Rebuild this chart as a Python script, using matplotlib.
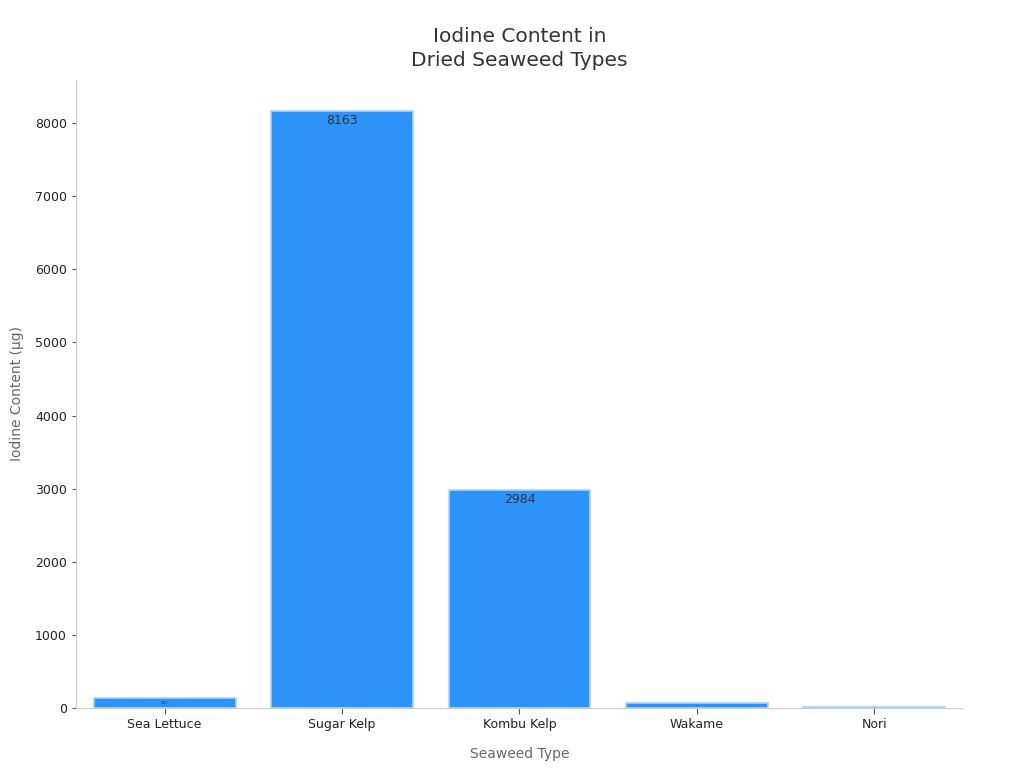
import matplotlib
matplotlib.use("Agg")
import matplotlib.pyplot as plt

categories = ["Sea Lettuce", "Sugar Kelp", "Kombu Kelp", "Wakame", "Nori"]
values = [137, 8163, 2984, 68, 18]

fig = plt.figure(figsize=(10.24, 7.68), dpi=100)
ax = fig.add_axes([0.0742, 0.078, 0.8662, 0.818])

x = list(range(len(categories)))
bars = ax.bar(x, values, width=0.8, color="#2E93F9", edgecolor="#A8D4FA", linewidth=1.2)

ymax = 8590
ax.set_xlim(-0.5, 4.5)
ax.set_ylim(0, ymax)
ax.set_xticks(x)
ax.set_xticklabels(categories, fontsize=9, color="#222222")
ax.set_yticks([0, 1000, 2000, 3000, 4000, 5000, 6000, 7000, 8000])
ax.tick_params(axis="y", labelsize=9, colors="#222222", length=3, color="#555555")
ax.tick_params(axis="x", length=4, color="#555555", pad=3)

for s in ["top", "right"]:
    ax.spines[s].set_visible(False)
for s in ["left", "bottom"]:
    ax.spines[s].set_color("#cccccc")
    ax.spines[s].set_linewidth(0.8)

axes_h_px = 0.818 * 768
for b, v in zip(bars, values):
    h_px = v / ymax * axes_h_px
    fs = min(9, max(0.5, h_px * 0.3))
    if fs >= 9:
        yy, va = v - 40, "top"
    else:
        yy, va = v * 0.55, "center"
    t = ax.text(b.get_x() + b.get_width() / 2, yy, f"{v}", ha="center", va=va,
                fontsize=fs, color="#333333")
    t.set_clip_on(True)
    t.set_clip_path(b)

ax.set_xlabel("Seaweed Type", fontsize=10, color="#666666", labelpad=12)
ax.set_ylabel("Iodine Content (µg)", fontsize=10, color="#666666", labelpad=8)
ax.set_title("Iodine Content in\nDried Seaweed Types", fontsize=14.5, color="#333333",
             pad=10, linespacing=1.35)

fig.savefig("out.png", dpi=100)
